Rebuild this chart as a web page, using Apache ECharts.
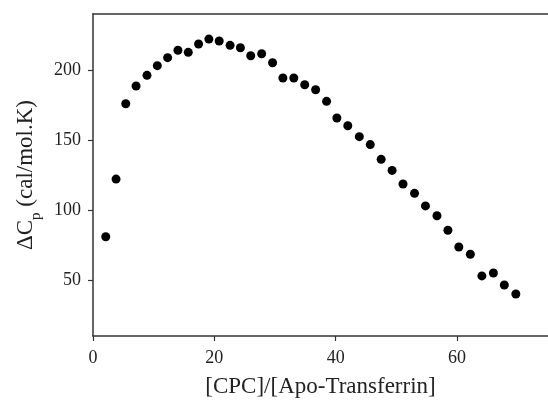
<!DOCTYPE html>
<html>
<head>
<meta charset="utf-8">
<script src="https://cdn.jsdelivr.net/npm/echarts@6/dist/echarts.min.js"></script>
<style>html,body{margin:0;padding:0;background:#fff}#c{width:548px;height:407px}</style>
</head>
<body>
<div id="c"></div>
<script>
const ratioValues = [2.1, 3.8, 5.4, 7.1, 8.9, 10.6, 12.3, 14.0, 15.7, 17.4, 19.1, 20.8, 22.6, 24.3, 26.0, 27.8, 29.6, 31.3, 33.1, 34.9, 36.7, 38.5, 40.2, 42.0, 43.9, 45.7, 47.5, 49.3, 51.1, 53.0, 54.8, 56.7, 58.5, 60.3, 62.2, 64.1, 66.0, 67.8, 69.7];
const dCpValues = [80.9, 122.1, 175.9, 188.6, 196.2, 203.1, 208.8, 214.1, 212.6, 218.6, 222.1, 220.7, 217.6, 215.9, 210.2, 211.6, 205.2, 194.3, 194.3, 189.5, 185.9, 177.6, 165.7, 160.2, 152.4, 146.7, 136.2, 128.3, 118.6, 111.9, 102.9, 95.9, 85.5, 73.6, 68.4, 52.9, 55.0, 46.4, 40.0];
const xTicks = [0, 20, 40, 60];
const yTicks = [50, 100, 150, 200];

const points = ratioValues.map((x, i) => [x, dCpValues[i]]);
const font = 'Liberation Serif';
const chart = echarts.init(document.getElementById('c'), null, {renderer: 'canvas'});
chart.setOption({
  animation: false,
  grid: {left: 93, top: 14, bottom: 71, right: -4},
  xAxis: [{
    type: 'value', min: 0, max: 75,
    name: '[CPC]/[Apo-Transferrin]', nameLocation: 'middle', nameGap: 39,
    nameTextStyle: {fontFamily: font, fontSize: 23, color: '#222'},
    axisLine: {show: true, lineStyle: {color: '#333', width: 1.5}},
    axisTick: {show: true, inside: false, length: 5, customValues: xTicks, lineStyle: {color: '#333', width: 1.2}},
    axisLabel: {customValues: xTicks, margin: 13, fontFamily: font, fontSize: 18, color: '#222'},
    splitLine: {show: false}
  }, {
    type: 'value', min: 0, max: 75, position: 'top',
    axisLine: {show: true, lineStyle: {color: '#333', width: 1.5}},
    axisTick: {show: false}, axisLabel: {show: false}, splitLine: {show: false}
  }],
  yAxis: {
    type: 'value', min: 10, max: 240,
    name: '{a|ΔC}{s|p}{a| (cal/mol.K)}', nameLocation: 'middle', nameGap: 49, nameRotate: 90,
    nameTextStyle: {
      fontFamily: font, fontSize: 23, color: '#222',
      rich: {
        a: {fontFamily: font, fontSize: 23, color: '#222', lineHeight: 28, verticalAlign: 'top'},
        s: {fontFamily: font, fontSize: 15, color: '#222', lineHeight: 28, verticalAlign: 'top', padding: [14, 0, 0, 0]}
      }
    },
    axisLine: {show: true, lineStyle: {color: '#333', width: 1.5}},
    axisTick: {show: true, inside: false, length: 5, customValues: yTicks, lineStyle: {color: '#333', width: 1.2}},
    axisLabel: {customValues: yTicks, margin: 12, fontFamily: font, fontSize: 18, color: '#222'},
    splitLine: {show: false}
  },
  series: [{
    type: 'scatter', data: points, symbol: 'circle', symbolSize: 9,
    itemStyle: {color: '#000', opacity: 1}
  }]
});
</script>
</body>
</html>
